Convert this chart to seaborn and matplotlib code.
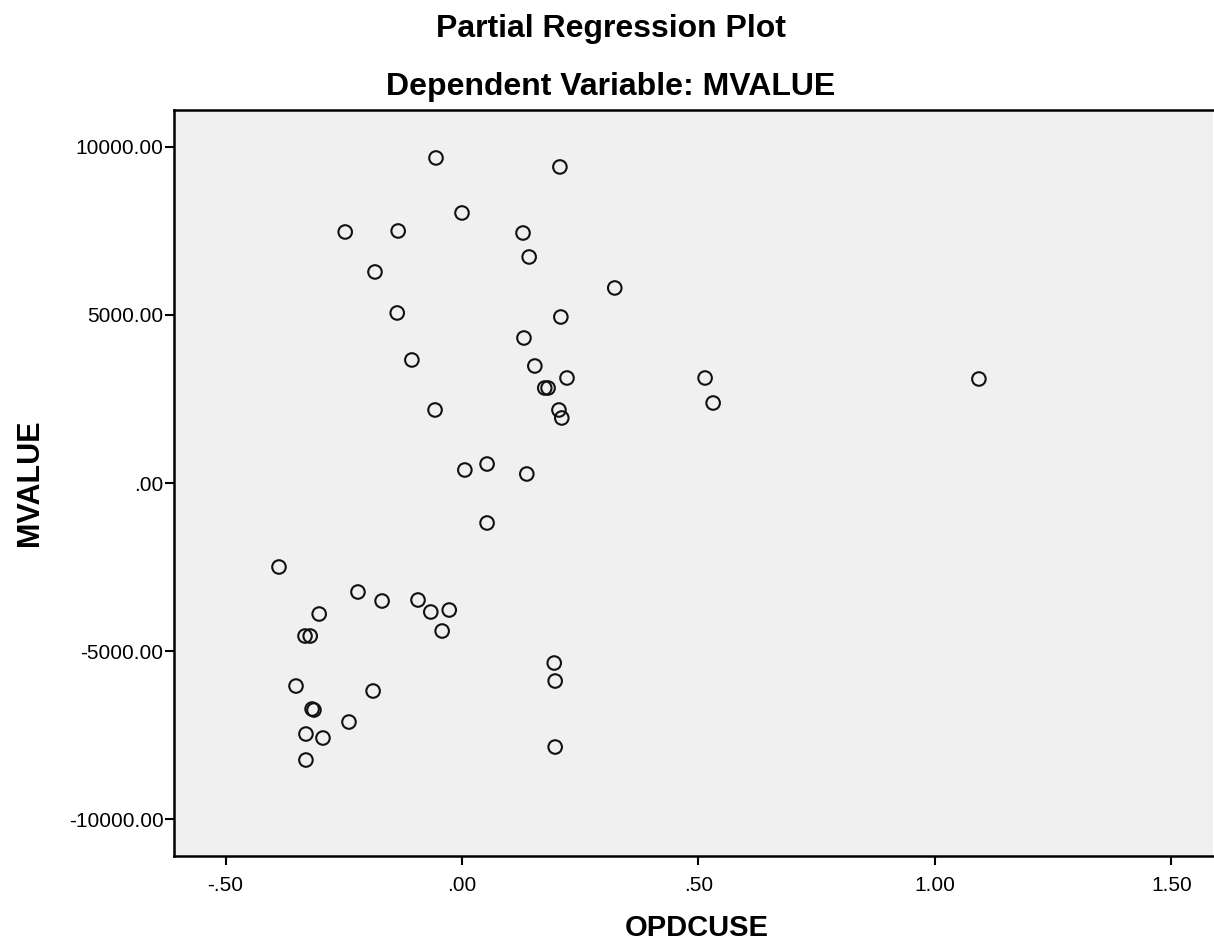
import matplotlib
matplotlib.use("Agg")
import matplotlib.pyplot as plt
import seaborn as sns
import pandas as pd

# Partial residuals
opdcuse = [-0.055, 0.207, 0.000, -0.247, -0.135, 0.129, 0.142, -0.184, 0.323, -0.137,
           0.209, 0.131, -0.106, 0.154, 0.222, 0.175, 0.182, 0.514, 1.093, 0.531,
           -0.057, 0.205, 0.211, 0.006, 0.053, 0.137, 0.053,
           -0.387, -0.220, -0.169, -0.093, -0.066, -0.027, -0.042, -0.302, -0.332,
           -0.321, 0.195, 0.197, -0.351, -0.188, -0.317, -0.313, -0.239, -0.330,
           -0.294, -0.330, 0.197]
mvalue = [9673, 9405, 8036, 7470, 7500, 7440, 6726, 6280, 5804, 5060,
          4940, 4315, 3661, 3482, 3125, 2827, 2827, 3125, 3095, 2381,
          2173, 2173, 1935, 387, 565, 268, -1190,
          -2500, -3244, -3512, -3482, -3839, -3780, -4405, -3899, -4554,
          -4554, -5357, -5893, -6042, -6190, -6726, -6756, -7113, -7470,
          -7589, -8244, -7857]

x_ticks = [-0.5, 0.0, 0.5, 1.0, 1.5]
x_tick_labels = ["-.50", ".00", ".50", "1.00", "1.50"]
y_ticks = [-10000, -5000, 0, 5000, 10000]
y_tick_labels = ["-10000.00", "-5000.00", ".00", "5000.00", "10000.00"]

df = pd.DataFrame({"OPDCUSE": opdcuse, "MVALUE": mvalue})

sns.set_theme(style="white")
plt.rcParams['font.family'] = ['Liberation Sans', 'DejaVu Sans']
plt.rcParams['text.color'] = 'black'

fig = plt.figure(figsize=(12.14, 9.46), dpi=100)
ax = fig.add_axes([174/1214, 1 - 856/946, (1213 - 174)/1214, (856 - 110)/946])
ax.set_facecolor("#f0f0f0")

sns.scatterplot(data=df, x="OPDCUSE", y="MVALUE", ax=ax, marker="o", s=95,
                facecolor="none", edgecolor="#111111", linewidth=1.5)

ax.set_xlim(-0.609, 1.588)
ax.set_ylim(-11100, 11100)
ax.set_xticks(x_ticks)
ax.set_xticklabels(x_tick_labels)
ax.set_yticks(y_ticks)
ax.set_yticklabels(y_tick_labels)
ax.tick_params(axis="both", direction="out", length=6.5, width=1.5, colors="black",
               labelsize=15, bottom=True, left=True)
ax.tick_params(axis="x", pad=8)
ax.tick_params(axis="y", pad=1)

for side in ["left", "bottom", "top"]:
    ax.spines[side].set_visible(True)
    ax.spines[side].set_color("black")
    ax.spines[side].set_linewidth(1.8)
ax.spines["right"].set_visible(False)

ax.set_xlabel("")
ax.set_ylabel("")
fig.text(697/1214, 1 - 928/946, "OPDCUSE", ha="center", va="center",
         fontsize=21, fontweight="bold", color="black")
fig.text(30/1214, 1 - 483/946, "MVALUE", ha="center", va="center",
         rotation=90, fontsize=22, fontweight="bold", color="black")
fig.text(611/1214, 1 - 29/946, "Partial Regression Plot", ha="center", va="center",
         fontsize=23, fontweight="bold", color="black")
fig.text(611/1214, 1 - 87/946, "Dependent Variable: MVALUE", ha="center", va="center",
         fontsize=23, fontweight="bold", color="black")

fig.savefig("out.png", dpi=100, facecolor="white")
